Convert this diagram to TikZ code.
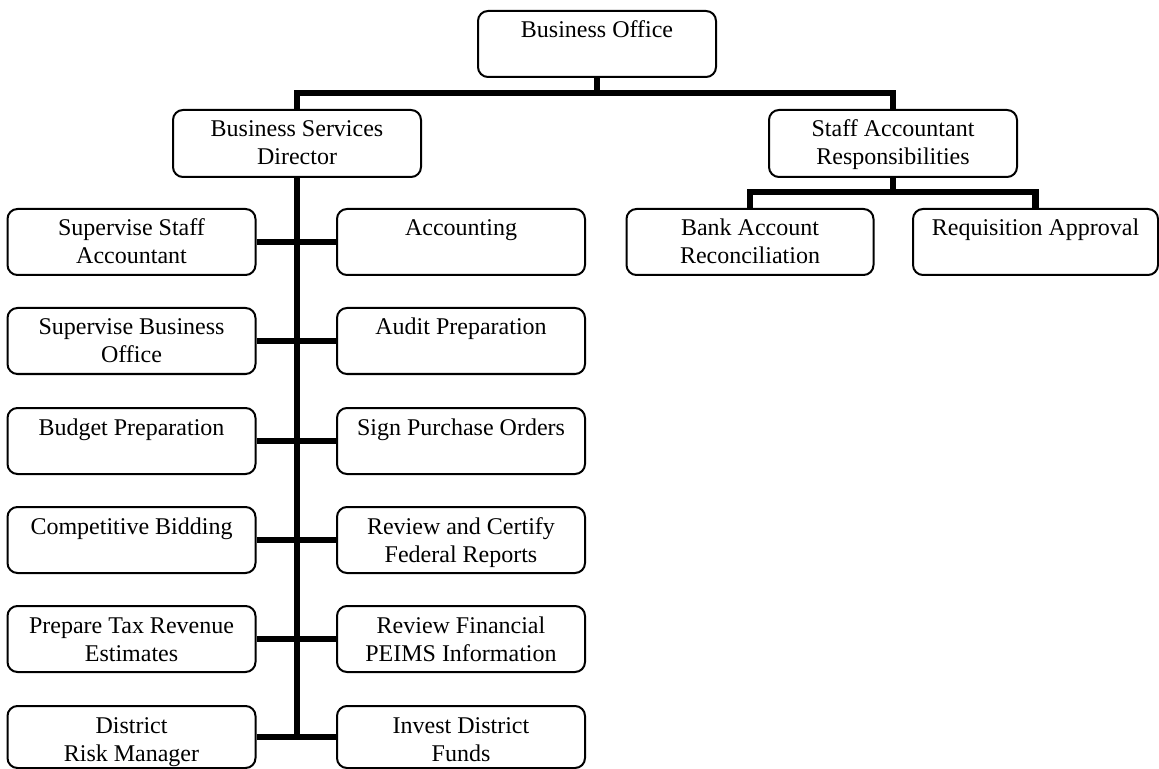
\documentclass[tikz,border=0pt]{standalone}
\usepackage{fontspec}
\setmainfont{Liberation Serif}
% box text: fixed-size parbox, lines centred and hung from the top edge
\newcommand{\boxlines}[3]{\parbox[t][#2][t]{#1}{\centering\rule{0pt}{13.5pt}#3}}
\begin{document}
\begin{tikzpicture}[x=0.5pt,y=-0.5pt,
  orgbox/.style={draw, line width=1pt, rounded corners=5pt, inner sep=0pt,
    anchor=north, font=\fontsize{12}{14}\selectfont},
  link/.style={line width=3.25pt}]
\useasboundingbox (0,0) rectangle (1159,769);

% top level
\node[orgbox] (bo) at (597,10) {\boxlines{119pt}{33pt}{Business Office}};
\node[orgbox] (bsd) at (297,109) {\boxlines{124pt}{33.5pt}{Business Services\\Director}};
\node[orgbox] (sar) at (893,109) {\boxlines{124pt}{33.5pt}{Staff Accountant\\Responsibilities}};

% staff accountant duties
\node[orgbox] (bank) at (750,208) {\boxlines{123.5pt}{33pt}{Bank Account\\Reconciliation}};
\node[orgbox] (req) at (1035.5,208) {\boxlines{122.5pt}{33pt}{Requisition Approval}};

% director duties, left column
\node[orgbox] (l1) at (131.5,208) {\boxlines{124pt}{33pt}{Supervise Staff\\Accountant}};
\node[orgbox] (l2) at (131.5,307) {\boxlines{124pt}{33pt}{Supervise Business\\Office}};
\node[orgbox] (l3) at (131.5,407) {\boxlines{124pt}{33pt}{Budget Preparation}};
\node[orgbox] (l4) at (131.5,506) {\boxlines{124pt}{33pt}{Competitive Bidding}};
\node[orgbox] (l5) at (131.5,605) {\boxlines{124pt}{33pt}{Prepare Tax Revenue\\Estimates}};
\node[orgbox] (l6) at (131.5,705) {\boxlines{124pt}{31pt}{District\\Risk Manager}};

% director duties, right column
\node[orgbox] (r1) at (461,208) {\boxlines{124pt}{33pt}{Accounting}};
\node[orgbox] (r2) at (461,307) {\boxlines{124pt}{33pt}{Audit Preparation}};
\node[orgbox] (r3) at (461,407) {\boxlines{124pt}{33pt}{Sign Purchase Orders}};
\node[orgbox] (r4) at (461,506) {\boxlines{124pt}{33pt}{Review and Certify\\Federal Reports}};
\node[orgbox] (r5) at (461,605) {\boxlines{124pt}{33pt}{Review Financial\\PEIMS Information}};
\node[orgbox] (r6) at (461,705) {\boxlines{124pt}{31pt}{Invest District\\Funds}};

% bus lines
\coordinate (topbar) at (0,93);
\coordinate (subbar) at (0,192);
\draw[link] (bo.south) -- (bo.south |- topbar);
\draw[link] (bsd.north) -- (bsd.north |- topbar) -- (sar.north |- topbar) -- (sar.north);
\draw[link] (sar.south) -- (sar.south |- subbar);
\draw[link] (bank.north) -- (bank.north |- subbar) -- (req.north |- subbar) -- (req.north);
\draw[link] (bsd.south) -- (bsd.south |- l6.east);
\foreach \i in {1,...,6} {
  \draw[link] (l\i.east) -- (r\i.west);
}
\end{tikzpicture}
\end{document}
